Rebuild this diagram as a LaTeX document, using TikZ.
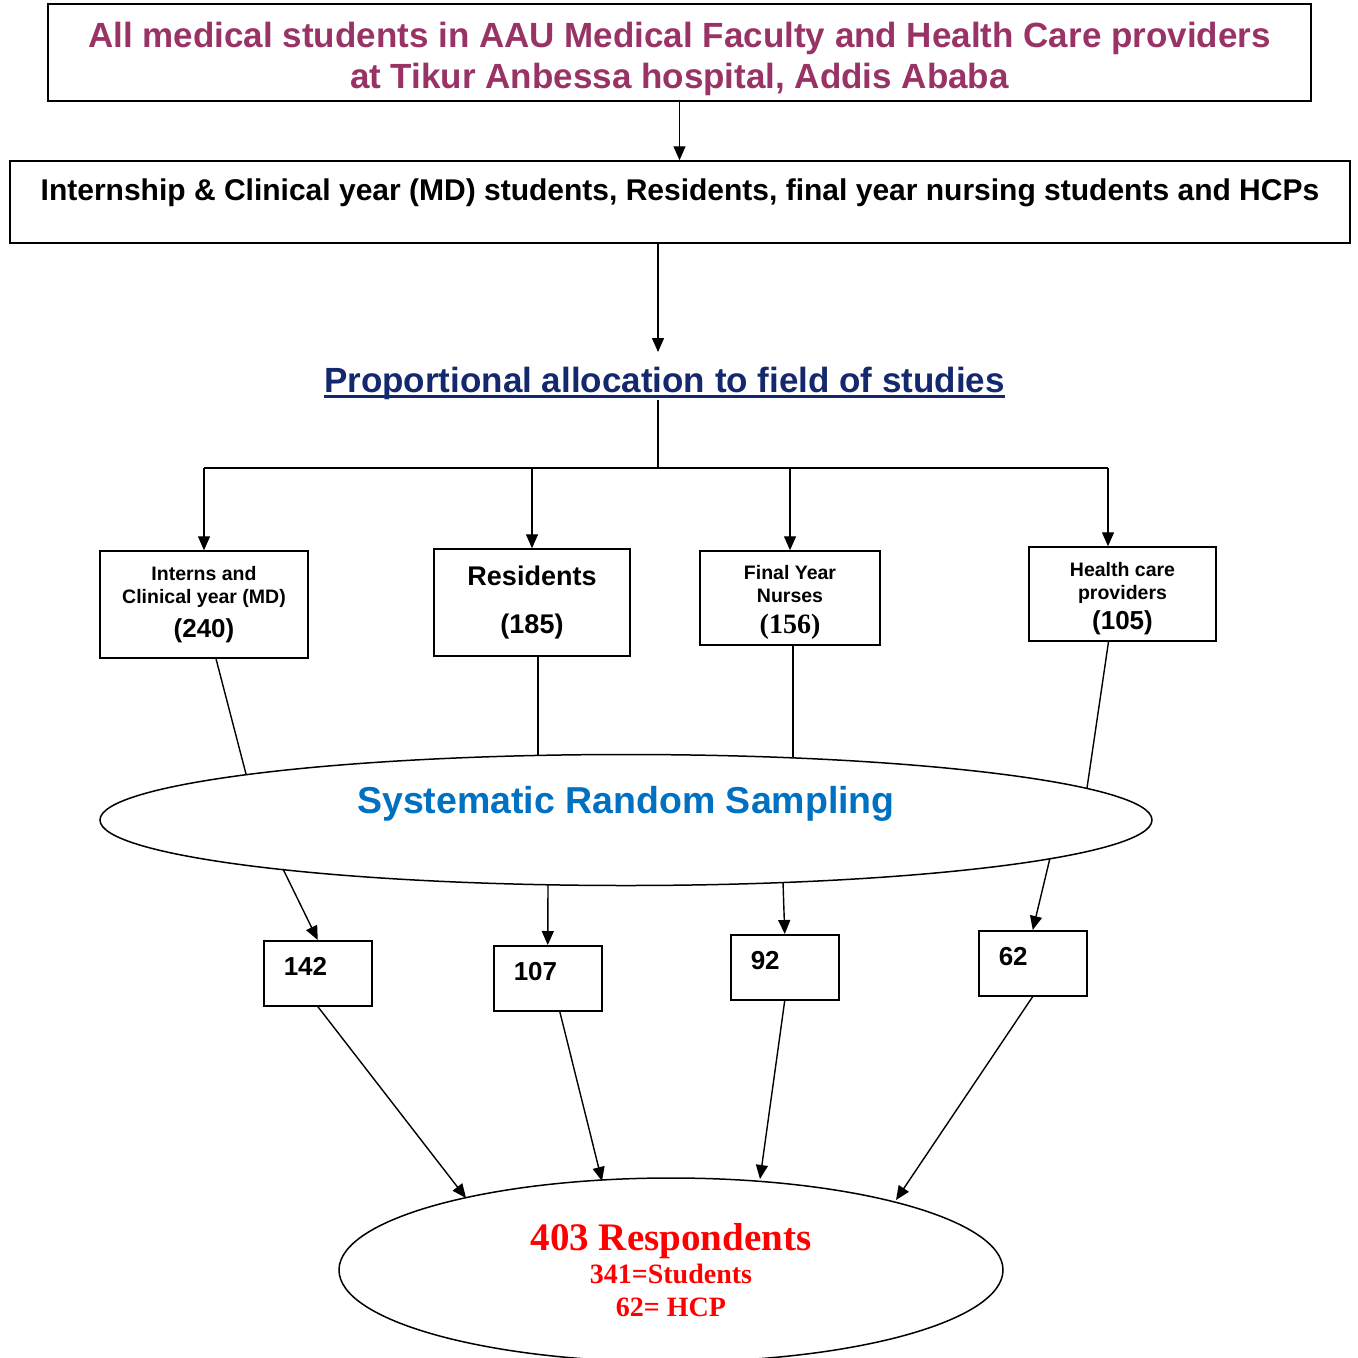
\documentclass[tikz,border=0pt]{standalone}
\usepackage{fontspec}
\setmainfont{Liberation Sans}
\newfontfamily\serifrm{Liberation Serif}
\usetikzlibrary{positioning}
\usetikzlibrary{shapes.geometric}
\usetikzlibrary{arrows.meta}
\definecolor{plum}{RGB}{153,51,102}
\definecolor{navyblue}{RGB}{20,40,110}
\definecolor{srsblue}{RGB}{0,112,192}

\begin{document}
\begin{tikzpicture}[x=1pt,y=-1pt,font=\bfseries]
        \tikzset{box/.style={draw,line width=1.5pt,inner sep=0pt,align=center}}
        \tikzset{numbox/.style={draw,line width=1.5pt,inner sep=0pt,inner xsep=20pt,text width=68pt,align=left,text height=35pt,text depth=30pt,anchor=north west,font=\bfseries\fontsize{26}{30}\selectfont}}
        \tikzset{oval/.style={draw,ellipse,line width=1.5pt,inner sep=0pt}}
        \tikzset{arr/.style={line width=1.4pt,-{Triangle[length=14pt,width=12pt]}}}
        \tikzset{link/.style={line width=1.4pt}}
        \useasboundingbox (0,0) rectangle (1358,1358);
        % population
        \node[box,minimum width=1263pt,minimum height=97pt] (all) at (679.5,52.5) {};
        \node[text=plum,align=center,inner sep=0pt,font=\bfseries\fontsize{35}{41}\selectfont] (alltext) at (679.5,59) {All medical students in AAU Medical Faculty and Health Care providers\\at Tikur Anbessa hospital, Addis Ababa};
        \node[box,minimum width=1340pt,text height=39pt,text depth=43pt,font=\bfseries\fontsize{30}{34}\selectfont] (mid) at (680,202) {Internship \& Clinical year (MD) students, Residents, final year nursing students and HCPs};
        \node[inner sep=0pt,text=navyblue,font=\bfseries\fontsize{35}{40}\selectfont] (prop) at (664.5,383) {Proportional allocation to field of studies};
        \draw[navyblue,line width=3pt] ([yshift=-4pt]prop.base west) -- ([yshift=-4pt]prop.base east);
        % strata
        \node[box,minimum width=208pt,minimum height=107pt,font=\bfseries\fontsize{19.5}{23}\selectfont] (b1) at (204,604.5) {Interns and\\Clinical year (MD)\\[11pt]\fontsize{26}{30}\selectfont(240)};
        \node[box,minimum width=196pt,minimum height=107pt,font=\bfseries\fontsize{27}{48}\selectfont] (b2) at (532,602.5) {Residents\\(185)};
        \node[box,minimum width=180pt,minimum height=94pt,font=\bfseries\fontsize{19.5}{23}\selectfont] (b3) at (790,598) {\rule{0pt}{22pt}Final Year\\Nurses\\[8pt]\serifrm\fontsize{28}{29}\selectfont(156)};
        \node[box,minimum width=187pt,minimum height=94pt,font=\bfseries\fontsize{19.5}{23}\selectfont] (b4) at (1122.5,594) {\rule{0pt}{24pt}Health care\\providers\\[7pt]\fontsize{26}{27}\selectfont(105)};
        % sampling
        \node[oval,minimum width=1052pt,minimum height=131pt] (srs) at (626,820) {};
        \node[text=srsblue,font=\bfseries\fontsize{37.5}{44}\selectfont] (srstext) at (626,804) {Systematic Random Sampling};
        \node[numbox] (n1) at (263,940) {142};
        \node[numbox] (n2) at (493,945) {107};
        \node[numbox] (n3) at (730,934) {92};
        \node[numbox] (n4) at (978,930) {62};
        \node[oval,minimum width=664pt,minimum height=184pt,align=center,text=red,font=\serifrm\bfseries\fontsize{28}{33}\selectfont] (resp) at (671,1270) {\fontsize{39}{40}\selectfont 403 Respondents\\\fontsize{28}{34}\selectfont 341=Students\\62= HCP};
        % connectors
        \coordinate (pin) at (658,352);
        \coordinate (split) at (658,468);
        \coordinate (top4) at (1108,468);
        \coordinate (s1) at (246,774);
        \coordinate (s2) at (538,756);
        \coordinate (s3) at (793,758);
        \coordinate (s4) at (1087,788);
        \coordinate (t1) at (283,869);
        \coordinate (t2) at (548,885);
        \coordinate (t3) at (783,882);
        \coordinate (t4) at (1050,858);
        \coordinate (r1) at (466,1198);
        \coordinate (r2) at (602,1181);
        \coordinate (r3) at (760,1179);
        \coordinate (r4) at (896,1200);
        \draw[arr] (all.south) -- (all.south |- mid.north);
        \draw[arr] (mid.south -| pin) -- (pin);
        \draw[link] (prop.south -| split) -- (split);
        \draw[link] (split -| b1) -- (top4);
        \foreach \b in {b1,b2,b3} \draw[arr] (split -| \b) -- (\b.north);
        \draw[arr] (top4) -- (top4 |- b4.north);
        \draw[link] ([xshift=12pt]b1.south) -- (s1);
        \draw[link] ([xshift=6pt]b2.south) -- (s2);
        \draw[link] ([xshift=3pt]b3.south) -- (s3);
        \draw[link] ([xshift=-14pt]b4.south) -- (s4);
        \draw[arr] (t1) -- (n1.north);
        \draw[arr] (t2) -- (n2.north);
        \draw[arr] (t3) -- (n3.north);
        \draw[arr] (t4) -- (n4.north);
        \draw[arr] (n1.south) -- (r1);
        \draw[arr] ([xshift=12pt]n2.south) -- (r2);
        \draw[arr] (n3.south) -- (r3);
        \draw[arr] (n4.south) -- (r4);
\end{tikzpicture}
\end{document}
